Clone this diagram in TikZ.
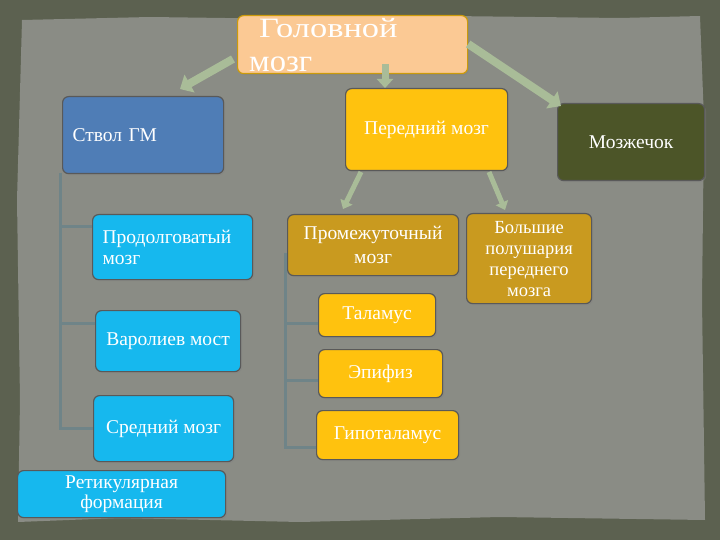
\documentclass[tikz,border=0pt]{standalone}
\usepackage{fontspec}
\setmainfont{Liberation Serif}
\usetikzlibrary{arrows.meta,shadows}

\definecolor{frame}{HTML}{5C6150}
\definecolor{paper}{HTML}{8A8C85}
\definecolor{peach}{HTML}{FBC994}
\definecolor{steel}{HTML}{4F7DB6}
\definecolor{gold}{HTML}{FFC20E}
\definecolor{olive}{HTML}{4C5528}
\definecolor{cyan}{HTML}{16B8EE}
\definecolor{ochre}{HTML}{C99A1F}
\definecolor{link}{HTML}{6F8488}
\definecolor{arrowfill}{HTML}{A9BC98}

\tikzset{
  part/.style={anchor=north west, rounded corners=6pt, draw=black!65, line width=1.2pt,
    text=white, inner sep=0pt, font=\fontsize{19.5}{21}\selectfont,
    drop shadow={opacity=0.35, shadow xshift=1.5pt, shadow yshift=-1.5pt}},
  bigarrow/.style={draw=arrowfill, line width=8pt, -{Triangle[length=11pt,width=20pt]}},
  smallarrow/.style={draw=arrowfill, line width=5pt, -{Triangle[length=8pt,width=13pt]}},
  bracket/.style={draw=link, line width=3pt},
  title/.style={text=white, anchor=base west, inner sep=0pt}
}

\begin{document}
\begin{tikzpicture}[x=1pt,y=-1pt]
% background
\fill[frame] (0,0) rectangle (720,540);
\fill[paper] (22,20) -- (150,17) -- (300,19) -- (450,16) -- (620,18) -- (700,16)
  -- (704,120) -- (702,300) -- (705,520) -- (500,517) -- (300,522) -- (120,518)
  -- (18,522) -- (20,400) -- (17,200) -- cycle;
\useasboundingbox (0,0) rectangle (720,540);

% boxes
\node[part, fill=peach, draw=gold!80!black, minimum width=230pt, minimum height=58pt]
  (brain) at (237,15) {};
\node[title, font=\fontsize{28}{30}\selectfont] (brain1) at (259,38)
  {\scalebox{1.23}[1]{Головной}};
\node[title, font=\fontsize{31}{33}\selectfont] (brain2) at (249,72)
  {\scalebox{1.05}[1]{мозг}};

\node[part, fill=steel, minimum width=161pt, minimum height=77pt, align=left,
  text width=141pt, inner xsep=10pt] (stem) at (62,96) {Ствол ГМ};
\node[part, fill=gold, minimum width=162pt, minimum height=82pt] (fore) at (345,88)
  {Передний мозг};
\node[part, fill=olive, minimum width=147pt, minimum height=77pt] (cereb) at (557,103)
  {Мозжечок};

\node[part, fill=cyan, minimum width=160pt, minimum height=65pt, align=left,
  text width=140pt, inner xsep=10pt] (medulla) at (92,214) {Продолговатый\\мозг};
\node[part, fill=cyan, minimum width=145pt, minimum height=61pt] (pons) at (95,310)
  {Варолиев мост};
\node[part, fill=cyan, minimum width=140pt, minimum height=66pt] (mid) at (93,395)
  {Средний мозг};
\node[part, fill=cyan, minimum width=208pt, minimum height=47pt, align=center,
  font=\fontsize{19.5}{20}\selectfont] (retic) at (17,470) {Ретикулярная\\формация};

\node[part, fill=ochre, minimum width=171pt, minimum height=61pt, align=center,
  font=\fontsize{19.5}{24}\selectfont] (inter) at (287,214) {Промежуточный\\мозг};
\node[part, fill=ochre, minimum width=125pt, minimum height=90pt, align=center,
  font=\fontsize{18.5}{21}\selectfont] (hemi) at (466,213)
  {Большие\\полушария\\переднего\\мозга};

\node[part, fill=gold, minimum width=117pt, minimum height=43pt] (thal) at (318,293)
  {Таламус};
\node[part, fill=gold, minimum width=124pt, minimum height=48pt] (epi) at (318,349)
  {Эпифиз};
\node[part, fill=gold, minimum width=142pt, minimum height=49pt] (hypo) at (316,410)
  {Гипоталамус};

% brackets
\coordinate (sl) at (60,173);
\draw[bracket] (sl) -- (60,428) -- (mid.west |- 0,428);
\draw[bracket] (60,227) -- (medulla.west |- 0,227);
\draw[bracket] (60,323) -- (pons.west |- 0,323);
\coordinate (il) at (285,253);
\draw[bracket] (il) -- (285,447) -- (hypo.west |- 0,447);
\draw[bracket] (285,323) -- (thal.west |- 0,323);
\draw[bracket] (285,380) -- (epi.west |- 0,380);

% arrows
\draw[bigarrow] (brain.west |- 0,57) ++(-4,2) -- (180,89);
\draw[bigarrow, line width=7pt, -{Triangle[length=9pt,width=16pt]}] (385,64) -- (fore.north -| 385,0);
\draw[bigarrow] (brain.east |- 0,44) -- (561,106);
\draw[smallarrow] (361,172) -- (343,209);
\draw[smallarrow] (489,172) -- (505,210);
\end{tikzpicture}
\end{document}
